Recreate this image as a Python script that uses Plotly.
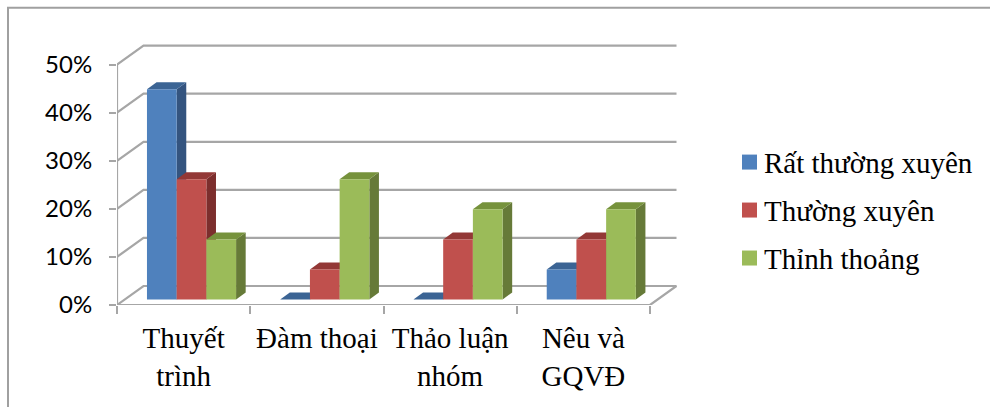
import plotly.graph_objects as go

categories = ["Thuyết<br>trình", "Đàm thoại", "Thảo luận<br>nhóm", "Nêu và<br>GQVĐ"]
series_names = ["Rất thường xuyên", "Thường xuyên", "Thỉnh thoảng"]
rat_thuong_xuyen = [43.75, 0, 0, 6.25]
thuong_xuyen = [25, 6.25, 12.5, 12.5]
thinh_thoang = [12.5, 25, 18.75, 18.75]
percent_ticks = [0, 10, 20, 30, 40, 50]

series_values = [rat_thuong_xuyen, thuong_xuyen, thinh_thoang]
front_colors = ["#4F81BD", "#C0504D", "#9BBB59"]
side_colors = ["#34547F", "#7C2E2D", "#667A38"]
top_colors = ["#3B6494", "#933836", "#76923C"]
GRID = "#A6A6A6"
INK = "#000000"

# Scale of the plot area, in pixels per axis unit
PX_PER_CATEGORY = 133.25
PX_PER_PERCENT = 4.81
LEFT, ZERO_Y, RIGHT_BACK = 117, 305.5, 677
Y_TOP = 54.5
X_MAX = (RIGHT_BACK - LEFT) / PX_PER_CATEGORY - 0.5

# Oblique projection offsets, in axis units
FLOOR_DX = 26.5 / PX_PER_CATEGORY
FLOOR_DY = 19 / PX_PER_PERCENT
BAR_SHIFT_X = 7.9 / PX_PER_CATEGORY
BAR_BASE = 5.5 / PX_PER_PERCENT
BAR_DX = 9.6 / PX_PER_CATEGORY
BAR_DY = 7 / PX_PER_PERCENT
BAR_W = 29.7 / PX_PER_CATEGORY

# Legend placement in page pixels
LEGEND_SWATCH_X = (742, 757)
LEGEND_SWATCH_Y = [155, 203, 251]
LEGEND_SWATCH_SIZE = 15
LEGEND_TEXT_X = 763
LEGEND_TEXT_Y = [163, 211, 259]

plot_h = Y_TOP * PX_PER_PERCENT
plot_w = RIGHT_BACK - LEFT


def paper_x(px):
    return (px - LEFT) / plot_w


def paper_y(px):
    return (ZERO_Y - px) / plot_h


fig = go.Figure()


def line(xs, ys):
    fig.add_trace(go.Scatter(x=xs, y=ys, mode="lines", showlegend=False, hoverinfo="skip",
                             line=dict(color=GRID, width=2.2), xaxis="x", yaxis="y"))


x_start, x_end = -0.5, 3.5

# Back wall gridlines and the matching rungs on the side wall
for t in percent_ticks:
    line([x_start, x_start + FLOOR_DX, x_end + FLOOR_DX],
         [t, t + FLOOR_DY, t + FLOOR_DY])

# Vertical axis and the front and right edges of the floor
line([x_start, x_start], [0, percent_ticks[-1]])
line([x_start, x_end, x_end + FLOOR_DX], [0, 0, FLOOR_DY])

# Side and top faces of each column, projected from its value
for s, values in enumerate(series_values):
    for c, v in enumerate(values):
        x0 = c - 1.5 * BAR_W + s * BAR_W + BAR_SHIFT_X
        x1 = x0 + BAR_W
        top = BAR_BASE + v
        fig.add_trace(go.Scatter(
            x=[x1, x1 + BAR_DX, x1 + BAR_DX, x1, x1],
            y=[BAR_BASE, BAR_BASE + BAR_DY, top + BAR_DY, top, BAR_BASE],
            mode="lines", fill="toself", fillcolor=side_colors[s], line=dict(width=0),
            showlegend=False, hoverinfo="skip", xaxis="x", yaxis="y"))
        fig.add_trace(go.Scatter(
            x=[x0, x1, x1 + BAR_DX, x0 + BAR_DX, x0],
            y=[top, top, top + BAR_DY, top + BAR_DY, top],
            mode="lines", fill="toself", fillcolor=top_colors[s], line=dict(width=0),
            showlegend=False, hoverinfo="skip", xaxis="x", yaxis="y"))

# Front faces sit on an overlaid category axis, which also carries the labels
for s, values in enumerate(series_values):
    fig.add_trace(go.Bar(
        x=categories, y=values, base=BAR_BASE, name=series_names[s],
        width=BAR_W, offset=-1.5 * BAR_W + s * BAR_W + BAR_SHIFT_X,
        marker=dict(color=front_colors[s], line=dict(width=0)),
        showlegend=False, xaxis="x2", yaxis="y2",
        hovertemplate="%{x}: %{y}%<extra>" + series_names[s] + "</extra>"))

# Series key: square swatches with their names
legend_shapes = []
legend_notes = []
for s, name in enumerate(series_names):
    legend_shapes.append(dict(
        type="rect", xref="paper", yref="paper",
        x0=paper_x(LEGEND_SWATCH_X[0]), x1=paper_x(LEGEND_SWATCH_X[1]),
        y0=paper_y(LEGEND_SWATCH_Y[s] + LEGEND_SWATCH_SIZE), y1=paper_y(LEGEND_SWATCH_Y[s]),
        fillcolor=front_colors[s], line=dict(width=0)))
    legend_notes.append(dict(
        text=name, xref="paper", yref="paper", x=paper_x(LEGEND_TEXT_X), y=paper_y(LEGEND_TEXT_Y[s]),
        xanchor="left", yanchor="middle", showarrow=False, xshift=-1,
        font=dict(family="Liberation Serif", size=29, color=INK)))

frame = dict(type="rect", xref="paper", yref="paper", layer="below",
             x0=paper_x(8), x1=paper_x(1000), y0=paper_y(420), y1=paper_y(8),
             line=dict(color="#A0A0A0", width=2))

fig.update_layout(
    width=990, height=407,
    margin=dict(l=LEFT, r=990 - RIGHT_BACK, t=ZERO_Y - plot_h, b=407 - ZERO_Y, autoexpand=False),
    paper_bgcolor="white", plot_bgcolor="rgba(0,0,0,0)",
    barmode="overlay", showlegend=False,
    xaxis=dict(type="linear", range=[x_start, X_MAX], visible=False, fixedrange=True),
    yaxis=dict(
        range=[0, Y_TOP], tickvals=percent_ticks, ticktext=[f"{t}%" for t in percent_ticks],
        showgrid=False, zeroline=False, showline=False, ticks="outside", ticklen=7,
        tickwidth=2, tickcolor=GRID, ticklabelstandoff=12,
        tickfont=dict(family="Lato", size=24, color=INK), fixedrange=True),
    xaxis2=dict(
        type="category", overlaying="x", anchor="y2", side="bottom", range=[x_start, X_MAX],
        categoryorder="array", categoryarray=categories, tickson="boundaries",
        showgrid=False, zeroline=False, showline=False, ticks="outside", ticklen=8,
        tickwidth=2, tickcolor=GRID, ticklabelstandoff=13,
        tickfont=dict(family="Liberation Serif", size=29, color=INK), fixedrange=True),
    yaxis2=dict(range=[0, Y_TOP], overlaying="y", visible=False, fixedrange=True),
    shapes=[frame] + legend_shapes,
    annotations=legend_notes,
)

fig.write_html("out.html")
